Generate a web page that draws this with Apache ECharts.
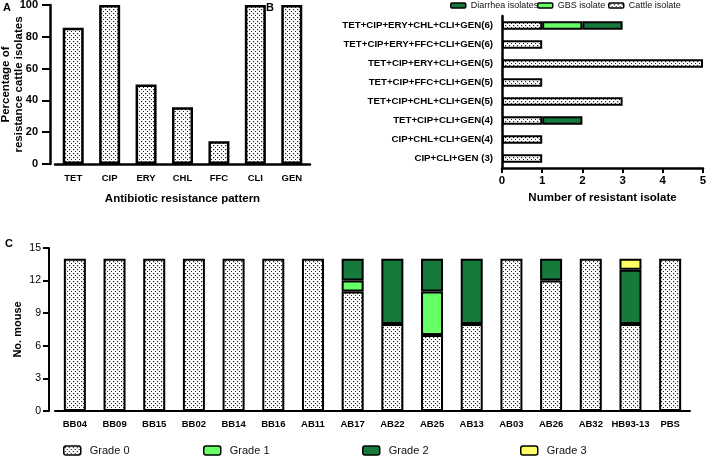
<!DOCTYPE html>
<html><head><meta charset="utf-8">
<script src="https://cdn.jsdelivr.net/npm/echarts@6/dist/echarts.min.js"></script>
<style>html,body{margin:0;padding:0;background:#fff}#c{width:708px;height:456px}</style>
</head><body><div id="c"></div>
<script>
// ---- Panel A data ----
const abxCategories = ['TET','CIP','ERY','CHL','FFC','CLI','GEN'];
const abxPercent = [85.7, 100, 50, 35.7, 14.3, 100, 100];
const abxTicks = [0, 20, 40, 60, 80, 100];

// ---- Panel B data ----
const patternCategories = [
  'TET+CIP+ERY+CHL+CLI+GEN(6)',
  'TET+CIP+ERY+FFC+CLI+GEN(6)',
  'TET+CIP+ERY+CLI+GEN(5)',
  'TET+CIP+FFC+CLI+GEN(5)',
  'TET+CIP+CHL+CLI+GEN(5)',
  'TET+CIP+CLI+GEN(4)',
  'CIP+CHL+CLI+GEN(4)',
  'CIP+CLI+GEN (3)'
];
const cattleIsolates   = [1, 1, 5, 1, 3, 1, 1, 1];
const gbsIsolates      = [1, 0, 0, 0, 0, 0, 0, 0];
const diarrheaIsolates = [1, 0, 0, 0, 0, 1, 0, 0];

// ---- Panel C data ----
const strainCategories = ['BB04','BB09','BB15','BB02','BB14','BB16','AB11','AB17','AB22','AB25','AB13','AB03','AB26','AB32','HB93-13','PBS'];
const grade0 = [14,14,14,14,14,14,14,11, 8, 7, 8,14,12,14, 8,14];
const grade1 = [ 0, 0, 0, 0, 0, 0, 0, 1, 0, 4, 0, 0, 0, 0, 0, 0];
const grade2 = [ 0, 0, 0, 0, 0, 0, 0, 2, 6, 3, 6, 0, 2, 0, 5, 0];
const grade3 = [ 0, 0, 0, 0, 0, 0, 0, 0, 0, 0, 0, 0, 0, 0, 1, 0];

// dotted pattern
function makeDots() {
  const cv = document.createElement('canvas');
  cv.width = 4; cv.height = 4;
  const ctx = cv.getContext('2d');
  ctx.fillStyle = '#fff'; ctx.fillRect(0,0,4,4);
  ctx.fillStyle = '#222';
  ctx.fillRect(1,1,1.2,1.2);
  ctx.fillRect(3,3,1.2,1.2);
  return cv;
}
const dots = {image: makeDots(), repeat: 'repeat'};
const DARK = '#167a3c', LIGHT = '#66ff66', YEL = '#ffff66';
const FONT = 'Arial, "Liberation Sans", sans-serif';
const nz = a => a.map(v => v === 0 ? null : v);

const chart = echarts.init(document.getElementById('c'), null, {renderer: 'canvas'});
const axLine = {lineStyle: {color: '#000', width: 2.5}};
const axTick = {length: 5, lineStyle: {color: '#000', width: 2}};
const legB = (name, left, pad) => ({left: left, top: 1, padding: 0, itemWidth: 15, itemHeight: 5, data: [name],
  textStyle: {fontSize: 9, color: '#111', padding: [0,0,0,pad]}, itemStyle: {borderColor: '#000', borderWidth: 1.5}});
const legC = (name, left) => ({left: left, top: 445, padding: 0, itemWidth: 17, itemHeight: 9, data: [name],
  textStyle: {fontSize: 11, color: '#111', padding: [0,0,0,4]}, itemStyle: {borderColor: '#000', borderWidth: 1.5}});

chart.setOption({
  animation: false,
  backgroundColor: '#fff',
  textStyle: {fontFamily: FONT},
  grid: [
    {left: 55, top: 5, width: 255, height: 159, outerBoundsMode: 'none'},
    {left: 502, top: 16, width: 201, height: 152, outerBoundsMode: 'none'},
    {left: 55, top: 248, width: 635, height: 163, outerBoundsMode: 'none'}
  ],
  graphic: [
    {type: 'text', left: 3, top: 2, style: {text: 'A', font: 'bold 11px ' + FONT, fill: '#000'}},
    {type: 'text', left: 266, top: 2, style: {text: 'B', font: 'bold 11px ' + FONT, fill: '#000'}},
    {type: 'text', left: 5, top: 238, style: {text: 'C', font: 'bold 11px ' + FONT, fill: '#000'}}
  ],
  legend: [
    legB('Diarrhea isolates', 450, 0),
    legB('GBS isolate', 537, 0),
    legB('Cattle isolate', 608, 0),
    legC('Grade 0', 63), legC('Grade 1', 203), legC('Grade 2', 362), legC('Grade 3', 520)
  ],
  xAxis: [
    {gridIndex: 0, type: 'category', data: abxCategories, axisLine: axLine, axisTick: Object.assign({alignWithLabel: true}, axTick),
     axisLabel: {color: '#000', fontWeight: 'bold', fontSize: 9.5, margin: 9},
     name: 'Antibiotic resistance pattern', nameLocation: 'middle', nameGap: 29, nameMoveOverlap: false,
     nameTextStyle: {color: '#000', fontWeight: 'bold', fontSize: 11.5}},
    {gridIndex: 1, type: 'value', min: 0, max: 5, interval: 1, splitLine: {show: false},
     axisLine: {show: true, lineStyle: {color: '#000', width: 2.5}}, axisTick: {show: true, length: 5, lineStyle: {color: '#000', width: 2}},
     axisLabel: {color: '#000', fontWeight: 'bold', fontSize: 11.5, margin: 7},
     name: 'Number of resistant isolate', nameLocation: 'middle', nameGap: 24, nameMoveOverlap: false,
     nameTextStyle: {color: '#000', fontWeight: 'bold', fontSize: 11.5}},
    {gridIndex: 2, type: 'category', data: strainCategories, axisLine: {lineStyle: {color: '#000', width: 2}},
     axisTick: {alignWithLabel: true, length: 5, lineStyle: {color: '#000', width: 2}},
     axisLabel: {color: '#000', fontWeight: 'bold', fontSize: 9.5, margin: 8, interval: 0}}
  ],
  yAxis: [
    {gridIndex: 0, type: 'value', min: 0, max: 100, interval: 20, offset: 5, splitLine: {show: false},
     axisLine: {show: true, lineStyle: {color: '#000', width: 2.5}}, axisTick: {show: true, length: 8, lineStyle: {color: '#000', width: 2}},
     axisLabel: {color: '#000', fontWeight: 'bold', fontSize: 11, margin: 12},
     name: 'Percentage of\nresistance cattle isolates', nameLocation: 'middle', nameGap: 25, nameRotate: 90, nameMoveOverlap: false,
     nameTextStyle: {color: '#000', fontWeight: 'bold', fontSize: 11.5, lineHeight: 13}},
    {gridIndex: 1, type: 'category', data: patternCategories, inverse: true,
     axisLine: {lineStyle: {color: '#000', width: 2.5}}, axisTick: {alignWithLabel: true, length: 5, lineStyle: {color: '#000', width: 2}},
     axisLabel: {color: '#000', fontWeight: 'bold', fontSize: 9.7, margin: 9, interval: 0}},
    {gridIndex: 2, type: 'value', min: 0, max: 15, interval: 3, offset: 6, splitLine: {show: false},
     axisLine: {show: true, lineStyle: {color: '#000', width: 2}}, axisTick: {show: true, length: 6, lineStyle: {color: '#000', width: 2}},
     axisLabel: {color: '#000', fontSize: 10.5, margin: 8},
     name: 'No. mouse', nameLocation: 'middle', nameGap: 26, nameRotate: 90, nameMoveOverlap: false,
     nameTextStyle: {color: '#000', fontWeight: 'bold', fontSize: 11}}
  ],
  series: [
    {type: 'bar', name: 'pctA', xAxisIndex: 0, yAxisIndex: 0, data: abxPercent, barWidth: 21,
     itemStyle: {color: dots, borderColor: '#000', borderWidth: 2.5}},
    {type: 'bar', name: 'Cattle isolate', xAxisIndex: 1, yAxisIndex: 1, stack: 'b', data: nz(cattleIsolates), barWidth: 8.5,
     itemStyle: {color: dots, borderColor: '#000', borderWidth: 2}},
    {type: 'bar', name: 'GBS isolate', xAxisIndex: 1, yAxisIndex: 1, stack: 'b', data: nz(gbsIsolates), barWidth: 8.5,
     itemStyle: {color: LIGHT, borderColor: '#000', borderWidth: 2}},
    {type: 'bar', name: 'Diarrhea isolates', xAxisIndex: 1, yAxisIndex: 1, stack: 'b', data: nz(diarrheaIsolates), barWidth: 8.5,
     itemStyle: {color: DARK, borderColor: '#000', borderWidth: 2}},
    {type: 'bar', name: 'Grade 0', xAxisIndex: 2, yAxisIndex: 2, stack: 'c', data: nz(grade0), barWidth: 22,
     itemStyle: {color: dots, borderColor: '#000', borderWidth: 2}},
    {type: 'bar', name: 'Grade 1', xAxisIndex: 2, yAxisIndex: 2, stack: 'c', data: nz(grade1), barWidth: 22,
     itemStyle: {color: LIGHT, borderColor: '#000', borderWidth: 2}},
    {type: 'bar', name: 'Grade 2', xAxisIndex: 2, yAxisIndex: 2, stack: 'c', data: nz(grade2), barWidth: 22,
     itemStyle: {color: DARK, borderColor: '#000', borderWidth: 2}},
    {type: 'bar', name: 'Grade 3', xAxisIndex: 2, yAxisIndex: 2, stack: 'c', data: nz(grade3), barWidth: 22,
     itemStyle: {color: YEL, borderColor: '#000', borderWidth: 2}}
  ]
});
</script></body></html>
